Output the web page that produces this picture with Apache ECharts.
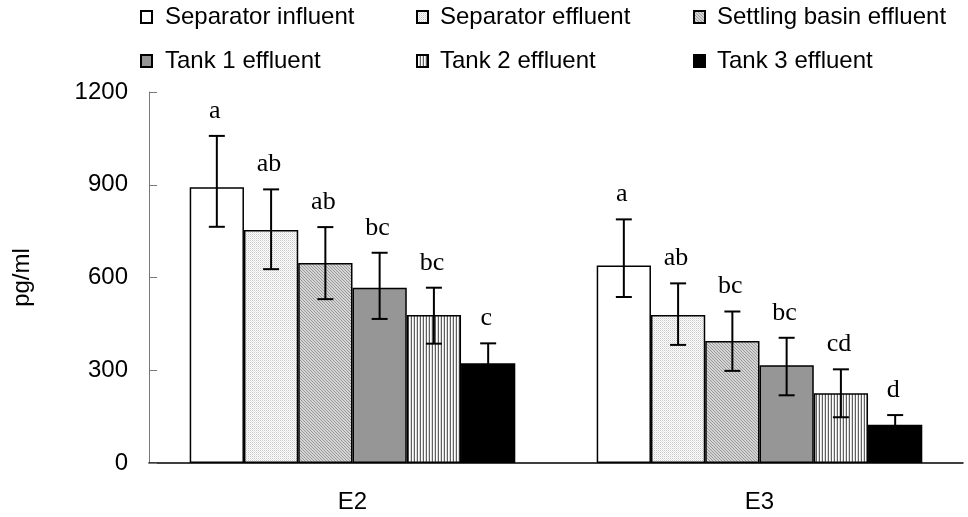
<!DOCTYPE html>
<html>
<head>
<meta charset="utf-8">
<script src="https://cdn.jsdelivr.net/npm/echarts@6/dist/echarts.min.js"></script>
<style>
html,body{margin:0;padding:0;background:#fff;}
#chart{width:968px;height:517px;}
</style>
</head>
<body>
<div id="chart"></div>
<script>
// ---- data ----
const categories = ['E2', 'E3'];
const seriesNames = ['Separator influent', 'Separator effluent', 'Settling basin effluent', 'Tank 1 effluent', 'Tank 2 effluent', 'Tank 3 effluent'];
const sepInfluent = [892, 639];
const sepEffluent = [754, 479];
const settlingBasin = [647, 395];
const tank1 = [567, 316];
const tank2 = [479, 226];
const tank3 = [323, 124];
const errUpper = [[1058, 788], [885, 581], [763, 490], [680, 405], [567, 303], [387, 155]];
const errLower = [[764, 537], [627, 382], [530, 298], [466, 219], [386, 148], [259, 93]];
const letters = [['a', 'a'], ['ab', 'ab'], ['ab', 'bc'], ['bc', 'bc'], ['bc', 'cd'], ['c', 'd']];
const yTicks = { min: 0, max: 1200, interval: 300 };

const values = [sepInfluent, sepEffluent, settlingBasin, tank1, tank2, tank3];

// ---- patterns ----
function pattern(w, h, draw) {
  const c = document.createElement('canvas');
  c.width = w; c.height = h;
  const ctx = c.getContext('2d');
  draw(ctx);
  return { image: c, repeat: 'repeat' };
}
function px(ctx, x, y, col) { ctx.fillStyle = col; ctx.fillRect(x, y, 1, 1); }

const patDots = pattern(2, 2, ctx => {
  ctx.fillStyle = '#ffffff'; ctx.fillRect(0, 0, 2, 2);
  px(ctx, 0, 0, '#c8c8c8'); px(ctx, 1, 1, '#e4e4e4');
});
const patDiag = pattern(3, 3, ctx => {
  ctx.fillStyle = '#d4d4d4'; ctx.fillRect(0, 0, 3, 3);
  for (let i = 0; i < 3; i++) { px(ctx, i, i, '#9a9a9a'); }
});
const patVert = pattern(3, 3, ctx => {
  ctx.fillStyle = '#ffffff'; ctx.fillRect(0, 0, 3, 3);
  ctx.fillStyle = '#606060'; ctx.fillRect(0, 0, 1, 3);
  ctx.fillStyle = '#d8d8d8'; ctx.fillRect(2, 0, 1, 3);
});
const fills = ['#ffffff', patDots, patDiag, '#969696', patVert, '#000000'];

const chart = echarts.init(document.getElementById('chart'), null, { renderer: 'canvas' });

const legendPos = [
  { left: 140, top: 5, pad: 8 }, { left: 416, top: 5, pad: 7 }, { left: 693, top: 5, pad: 7 },
  { left: 140, top: 49, pad: 8 }, { left: 416, top: 49, pad: 7 }, { left: 693, top: 49, pad: 7 }
];
const legends = seriesNames.map((n, i) => ({
  data: [{ name: n, icon: 'rect' }], left: legendPos[i].left, top: legendPos[i].top, padding: 0,
  itemWidth: 11, itemHeight: 12, itemGap: 0, selectedMode: false,
  textStyle: { fontSize: 24, fontFamily: 'Liberation Sans, Arial', color: '#000', padding: [0, 0, 0, legendPos[i].pad] }
}));

const barSeries = seriesNames.map((n, i) => ({
  name: n, type: 'bar', data: values[i],
  barGap: '0%', barCategoryGap: '20%',
  itemStyle: { color: fills[i], borderColor: '#000', borderWidth: 1.5 },
  emphasis: { disabled: true }, z: 2
}));

const errSeries = seriesNames.map((n, si) => ({
  type: 'custom', z: 10, silent: true,
  data: categories.map((c, ci) => [ci, errLower[si][ci], errUpper[si][ci]]),
  renderItem: function (params, api) {
    const cat = api.value(0);
    const band = api.size([1, 0])[0];
    const bw = band * 0.8 / 6;
    const x = api.coord([cat, 0])[0] + (si - 2.5) * bw;
    const yHi = api.coord([cat, api.value(2)])[1];
    const yLo = api.coord([cat, api.value(1)])[1];
    const cap = 8;
    const ls = { stroke: '#000', lineWidth: 2 };
    return {
      type: 'group', children: [
        { type: 'line', shape: { x1: x, y1: yHi, x2: x, y2: yLo }, style: ls },
        { type: 'line', shape: { x1: x - cap, y1: yHi, x2: x + cap, y2: yHi }, style: ls },
        { type: 'line', shape: { x1: x - cap, y1: yLo, x2: x + cap, y2: yLo }, style: ls },
        { type: 'text', style: { text: letters[si][params.dataIndex], x: x - 2, y: yHi - 12, align: 'center', verticalAlign: 'bottom', fontSize: 26, fontFamily: 'Liberation Serif, Times New Roman', fill: '#000' } }
      ]
    };
  }
}));

chart.setOption({
  animation: false,
  backgroundColor: '#fff',
  legend: legends,
  grid: { left: 149, right: 5, top: 92, bottom: 54, containLabel: false, outerBoundsMode: 'none' },
  xAxis: {
    type: 'category', data: categories,
    axisLine: { lineStyle: { color: '#000', width: 1.5 } },
    axisTick: { show: false },
    axisLabel: { fontSize: 24, fontFamily: 'Liberation Sans, Arial', color: '#000', margin: 27 }
  },
  yAxis: {
    type: 'value', min: yTicks.min, max: yTicks.max, interval: yTicks.interval,
    name: 'pg/ml', nameLocation: 'middle', nameRotate: 90, nameGap: 115,
    nameTextStyle: { fontSize: 24, fontFamily: 'Liberation Sans, Arial', color: '#000' },
    axisLine: { show: true, lineStyle: { color: '#777', width: 1 } },
    axisTick: { show: true, inside: true, length: 8, lineStyle: { color: '#777' } },
    splitLine: { show: false },
    axisLabel: { fontSize: 24, fontFamily: 'Liberation Sans, Arial', color: '#000', margin: 21, formatter: v => String(v) }
  },
  series: barSeries.concat(errSeries)
});
</script>
</body>
</html>
